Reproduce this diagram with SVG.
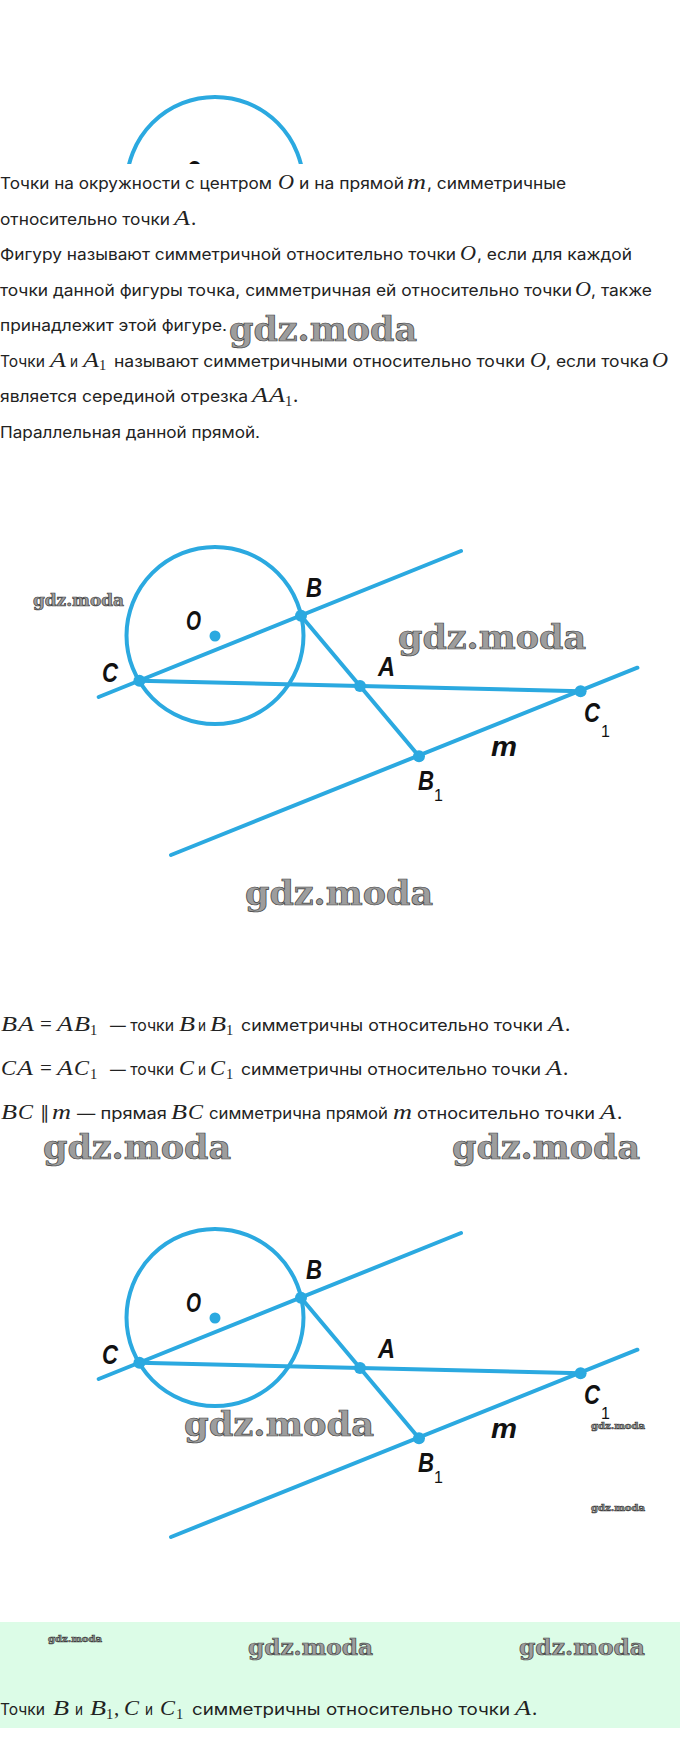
<svg xmlns="http://www.w3.org/2000/svg" width="680" height="1764" viewBox="0 0 680 1764">
<defs>
<style>
.t{font-family:Inter,"Noto Sans",sans-serif;font-size:16px;fill:#222}
.mi{font-family:"Liberation Serif",serif;font-style:italic;font-size:21px;fill:#222}
.mr{font-family:"Liberation Serif",serif;font-size:21px;fill:#222}
.sub{font-family:"Liberation Serif",serif;font-size:14.5px;fill:#222}
.par{font-family:"DejaVu Sans",sans-serif;font-size:18px;fill:#222}
.lbl{font-family:"Liberation Sans",Arial,sans-serif;font-style:italic;font-weight:bold;font-size:28px;fill:#111}
.lsub{font-family:"Liberation Sans",Arial,sans-serif;font-size:16px;fill:#111}
.wm{font-family:"DejaVu Serif",serif;font-weight:bold;fill:#9d9d9d;stroke:#404040;stroke-width:0.7}
.fig{stroke:#2ba9e0;stroke-width:4;fill:none;stroke-linecap:round}
.pt{fill:#2ba9e0}
</style>
<clipPath id="topclip"><rect x="0" y="0" width="680" height="164"/></clipPath>
</defs>
<rect width="680" height="1764" fill="#fff"/>

<!-- top partial figure -->
<g id="top-arc" clip-path="url(#topclip)">
<circle class="fig" cx="215" cy="185.5" r="88.5"/>
<text class="lbl" x="186" y="180" textLength="15" lengthAdjust="spacingAndGlyphs">O</text>
</g>

<!-- text block 1 -->
<g id="text-1">
<text class="t" x="0" y="189" textLength="272" lengthAdjust="spacingAndGlyphs">Точки на окружности с центром</text>
<text class="mi" x="278" y="189" textLength="16" lengthAdjust="spacingAndGlyphs">O</text>
<text class="t" x="299" y="189" textLength="105" lengthAdjust="spacingAndGlyphs">и на прямой</text>
<text class="mi" x="407" y="189" textLength="19" lengthAdjust="spacingAndGlyphs">m</text>
<text class="t" x="427" y="189" textLength="139" lengthAdjust="spacingAndGlyphs">, симметричные</text>

<text class="t" x="0" y="224.5" textLength="170" lengthAdjust="spacingAndGlyphs">относительно точки</text>
<text class="mi" x="174" y="224.5" textLength="16" lengthAdjust="spacingAndGlyphs">A</text>
<text class="mr" x="191" y="224.5">.</text>

<text class="t" x="0" y="260" textLength="456" lengthAdjust="spacingAndGlyphs">Фигуру называют симметричной относительно точки</text>
<text class="mi" x="460" y="260" textLength="16" lengthAdjust="spacingAndGlyphs">O</text>
<text class="t" x="477" y="260" textLength="155" lengthAdjust="spacingAndGlyphs">, если для каждой</text>

<text class="t" x="0" y="295.5" textLength="572" lengthAdjust="spacingAndGlyphs">точки данной фигуры точка, симметричная ей относительно точки</text>
<text class="mi" x="575" y="295.5" textLength="16" lengthAdjust="spacingAndGlyphs">O</text>
<text class="t" x="591" y="295.5" textLength="61" lengthAdjust="spacingAndGlyphs">, также</text>

<text class="t" x="0" y="331" textLength="227" lengthAdjust="spacingAndGlyphs">принадлежит этой фигуре.</text>

<text class="t" x="0" y="366.5" textLength="45" lengthAdjust="spacingAndGlyphs">Точки</text>
<text class="mi" x="50" y="366.5" textLength="16" lengthAdjust="spacingAndGlyphs">A</text>
<text class="t" x="70" y="366.5" textLength="8" lengthAdjust="spacingAndGlyphs">и</text>
<text class="mi" x="83" y="366.5" textLength="16" lengthAdjust="spacingAndGlyphs">A</text>
<text class="sub" x="99" y="370">1</text>
<text class="t" x="114" y="366.5" textLength="411" lengthAdjust="spacingAndGlyphs">называют симметричными относительно точки</text>
<text class="mi" x="530" y="366.5" textLength="16" lengthAdjust="spacingAndGlyphs">O</text>
<text class="t" x="546" y="366.5" textLength="103" lengthAdjust="spacingAndGlyphs">, если точка</text>
<text class="mi" x="652" y="366.5" textLength="16" lengthAdjust="spacingAndGlyphs">O</text>

<text class="t" x="0" y="402" textLength="248" lengthAdjust="spacingAndGlyphs">является серединой отрезка</text>
<text class="mi" x="252" y="402" textLength="16" lengthAdjust="spacingAndGlyphs">A</text>
<text class="mi" x="269" y="402" textLength="16" lengthAdjust="spacingAndGlyphs">A</text>
<text class="sub" x="285" y="405.5">1</text>
<text class="mr" x="293" y="402">.</text>

<text class="t" x="0" y="437.5" textLength="260" lengthAdjust="spacingAndGlyphs">Параллельная данной прямой.</text>
</g>

<!-- figure 1 -->
<g id="figure-1">
<g id="connectors-1">
<circle class="fig" cx="215" cy="635.5" r="88.5"/>
<line class="fig" x1="98.7" y1="697" x2="461" y2="551"/>
<line class="fig" x1="171" y1="855" x2="637.4" y2="667.7"/>
<line class="fig" x1="139.4" y1="680.7" x2="580.6" y2="691.3"/>
<line class="fig" x1="301" y1="615.7" x2="419" y2="756.3"/>
</g>
<g id="node-O-1"><circle class="pt" cx="215" cy="636" r="5.5"/><text class="lbl" x="186" y="630" textLength="15" lengthAdjust="spacingAndGlyphs">O</text></g>
<g id="node-B-1"><circle class="pt" cx="301" cy="615.7" r="6"/><text class="lbl" x="306" y="597" textLength="16" lengthAdjust="spacingAndGlyphs">B</text></g>
<g id="node-C-1"><circle class="pt" cx="139.4" cy="680.7" r="6"/><text class="lbl" x="102" y="682" textLength="16" lengthAdjust="spacingAndGlyphs">C</text></g>
<g id="node-A-1"><circle class="pt" cx="360" cy="686" r="6"/><text class="lbl" x="378" y="676" textLength="17" lengthAdjust="spacingAndGlyphs">A</text></g>
<g id="node-C1-1"><circle class="pt" cx="580.6" cy="691.3" r="6"/><text class="lbl" x="584" y="722" textLength="16" lengthAdjust="spacingAndGlyphs">C</text><text class="lsub" x="601" y="737">1</text></g>
<g id="node-B1-1"><circle class="pt" cx="419" cy="756.3" r="6"/><text class="lbl" x="418" y="790" textLength="16" lengthAdjust="spacingAndGlyphs">B</text><text class="lsub" x="434" y="801">1</text></g>
<g id="label-m-1"><text class="lbl" x="491" y="756" textLength="26" lengthAdjust="spacingAndGlyphs">m</text></g>
</g>

<!-- text block 2 -->
<g id="text-2">
<text class="mi" x="1" y="1031" textLength="16" lengthAdjust="spacingAndGlyphs">B</text>
<text class="mi" x="18" y="1031" textLength="16" lengthAdjust="spacingAndGlyphs">A</text>
<text class="mr" x="40" y="1031">=</text>
<text class="mi" x="57" y="1031" textLength="16" lengthAdjust="spacingAndGlyphs">A</text>
<text class="mi" x="74" y="1031" textLength="16" lengthAdjust="spacingAndGlyphs">B</text>
<text class="sub" x="90" y="1034.5">1</text>
<text class="t" x="110" y="1031" textLength="64" lengthAdjust="spacingAndGlyphs">— точки</text>
<text class="mi" x="179" y="1031" textLength="16" lengthAdjust="spacingAndGlyphs">B</text>
<text class="t" x="198" y="1031" textLength="8" lengthAdjust="spacingAndGlyphs">и</text>
<text class="mi" x="210" y="1031" textLength="16" lengthAdjust="spacingAndGlyphs">B</text>
<text class="sub" x="226" y="1034.5">1</text>
<text class="t" x="241" y="1031" textLength="302" lengthAdjust="spacingAndGlyphs">симметричны относительно точки</text>
<text class="mi" x="548" y="1031" textLength="16" lengthAdjust="spacingAndGlyphs">A</text>
<text class="mr" x="565" y="1031">.</text>

<text class="mi" x="1" y="1075" textLength="15" lengthAdjust="spacingAndGlyphs">C</text>
<text class="mi" x="17" y="1075" textLength="16" lengthAdjust="spacingAndGlyphs">A</text>
<text class="mr" x="40" y="1075">=</text>
<text class="mi" x="57" y="1075" textLength="16" lengthAdjust="spacingAndGlyphs">A</text>
<text class="mi" x="74" y="1075" textLength="15" lengthAdjust="spacingAndGlyphs">C</text>
<text class="sub" x="90" y="1078.5">1</text>
<text class="t" x="110" y="1075" textLength="64" lengthAdjust="spacingAndGlyphs">— точки</text>
<text class="mi" x="179" y="1075" textLength="15" lengthAdjust="spacingAndGlyphs">C</text>
<text class="t" x="198" y="1075" textLength="8" lengthAdjust="spacingAndGlyphs">и</text>
<text class="mi" x="210" y="1075" textLength="15" lengthAdjust="spacingAndGlyphs">C</text>
<text class="sub" x="226" y="1078.5">1</text>
<text class="t" x="241" y="1075" textLength="300" lengthAdjust="spacingAndGlyphs">симметричны относительно точки</text>
<text class="mi" x="546" y="1075" textLength="16" lengthAdjust="spacingAndGlyphs">A</text>
<text class="mr" x="563" y="1075">.</text>

<text class="mi" x="1" y="1119" textLength="16" lengthAdjust="spacingAndGlyphs">B</text>
<text class="mi" x="18" y="1119" textLength="15" lengthAdjust="spacingAndGlyphs">C</text>
<text class="par" x="40" y="1119">∥</text>
<text class="mi" x="52" y="1119" textLength="19" lengthAdjust="spacingAndGlyphs">m</text>
<text class="t" x="77" y="1119" textLength="90" lengthAdjust="spacingAndGlyphs">— прямая</text>
<text class="mi" x="171" y="1119" textLength="16" lengthAdjust="spacingAndGlyphs">B</text>
<text class="mi" x="188" y="1119" textLength="15" lengthAdjust="spacingAndGlyphs">C</text>
<text class="t" x="209" y="1119" textLength="179" lengthAdjust="spacingAndGlyphs">симметрична прямой</text>
<text class="mi" x="393" y="1119" textLength="19" lengthAdjust="spacingAndGlyphs">m</text>
<text class="t" x="417" y="1119" textLength="178" lengthAdjust="spacingAndGlyphs">относительно точки</text>
<text class="mi" x="600" y="1119" textLength="16" lengthAdjust="spacingAndGlyphs">A</text>
<text class="mr" x="617" y="1119">.</text>
</g>

<!-- figure 2 -->
<g id="figure-2" transform="translate(0,682)">
<g id="connectors-2">
<circle class="fig" cx="215" cy="635.5" r="88.5"/>
<line class="fig" x1="98.7" y1="697" x2="461" y2="551"/>
<line class="fig" x1="171" y1="855" x2="637.4" y2="667.7"/>
<line class="fig" x1="139.4" y1="680.7" x2="580.6" y2="691.3"/>
<line class="fig" x1="301" y1="615.7" x2="419" y2="756.3"/>
</g>
<g id="node-O-2"><circle class="pt" cx="215" cy="636" r="5.5"/><text class="lbl" x="186" y="630" textLength="15" lengthAdjust="spacingAndGlyphs">O</text></g>
<g id="node-B-2"><circle class="pt" cx="301" cy="615.7" r="6"/><text class="lbl" x="306" y="597" textLength="16" lengthAdjust="spacingAndGlyphs">B</text></g>
<g id="node-C-2"><circle class="pt" cx="139.4" cy="680.7" r="6"/><text class="lbl" x="102" y="682" textLength="16" lengthAdjust="spacingAndGlyphs">C</text></g>
<g id="node-A-2"><circle class="pt" cx="360" cy="686" r="6"/><text class="lbl" x="378" y="676" textLength="17" lengthAdjust="spacingAndGlyphs">A</text></g>
<g id="node-C1-2"><circle class="pt" cx="580.6" cy="691.3" r="6"/><text class="lbl" x="584" y="722" textLength="16" lengthAdjust="spacingAndGlyphs">C</text><text class="lsub" x="601" y="737">1</text></g>
<g id="node-B1-2"><circle class="pt" cx="419" cy="756.3" r="6"/><text class="lbl" x="418" y="790" textLength="16" lengthAdjust="spacingAndGlyphs">B</text><text class="lsub" x="434" y="801">1</text></g>
<g id="label-m-2"><text class="lbl" x="491" y="756" textLength="26" lengthAdjust="spacingAndGlyphs">m</text></g>
</g>

<!-- answer band -->
<rect id="answer-band" x="0" y="1622" width="680" height="106" fill="#dcfce7"/>
<g id="text-3">
<text class="t" x="0" y="1715" textLength="45" lengthAdjust="spacingAndGlyphs">Точки</text>
<text class="mi" x="53" y="1715" textLength="16" lengthAdjust="spacingAndGlyphs">B</text>
<text class="t" x="75" y="1715" textLength="8" lengthAdjust="spacingAndGlyphs">и</text>
<text class="mi" x="90" y="1715" textLength="16" lengthAdjust="spacingAndGlyphs">B</text>
<text class="sub" x="106" y="1718.5">1</text>
<text class="mr" x="114" y="1715">,</text>
<text class="mi" x="124" y="1715" textLength="15" lengthAdjust="spacingAndGlyphs">C</text>
<text class="t" x="145" y="1715" textLength="8" lengthAdjust="spacingAndGlyphs">и</text>
<text class="mi" x="160" y="1715" textLength="15" lengthAdjust="spacingAndGlyphs">C</text>
<text class="sub" x="176" y="1718.5">1</text>
<text class="t" x="192" y="1715" textLength="318" lengthAdjust="spacingAndGlyphs">симметричны относительно точки</text>
<text class="mi" x="515" y="1715" textLength="16" lengthAdjust="spacingAndGlyphs">A</text>
<text class="mr" x="532" y="1715">.</text>
</g>

<!-- watermarks -->
<g id="watermarks">
<text class="wm" x="229" y="341" font-size="34" textLength="188" lengthAdjust="spacingAndGlyphs">gdz.moda</text>
<text class="wm" x="33" y="606" font-size="16.5" textLength="91" lengthAdjust="spacingAndGlyphs" stroke-width="0.4">gdz.moda</text>
<text class="wm" x="398" y="649" font-size="34" textLength="188" lengthAdjust="spacingAndGlyphs">gdz.moda</text>
<text class="wm" x="245" y="905" font-size="34" textLength="188" lengthAdjust="spacingAndGlyphs">gdz.moda</text>
<text class="wm" x="43" y="1159" font-size="34" textLength="188" lengthAdjust="spacingAndGlyphs">gdz.moda</text>
<text class="wm" x="452" y="1159" font-size="34" textLength="188" lengthAdjust="spacingAndGlyphs">gdz.moda</text>
<text class="wm" x="184" y="1436" font-size="34" textLength="190" lengthAdjust="spacingAndGlyphs">gdz.moda</text>
<text class="wm" x="591" y="1429" font-size="10" textLength="54" lengthAdjust="spacingAndGlyphs" stroke-width="0.3">gdz.moda</text>
<text class="wm" x="591" y="1511" font-size="10" textLength="54" lengthAdjust="spacingAndGlyphs" stroke-width="0.3">gdz.moda</text>
<text class="wm" x="48" y="1642" font-size="10" textLength="54" lengthAdjust="spacingAndGlyphs" stroke-width="0.3">gdz.moda</text>
<text class="wm" x="248" y="1655" font-size="23" textLength="125" lengthAdjust="spacingAndGlyphs" stroke-width="0.5">gdz.moda</text>
<text class="wm" x="519" y="1655" font-size="23" textLength="126" lengthAdjust="spacingAndGlyphs" stroke-width="0.5">gdz.moda</text>
</g>
</svg>
